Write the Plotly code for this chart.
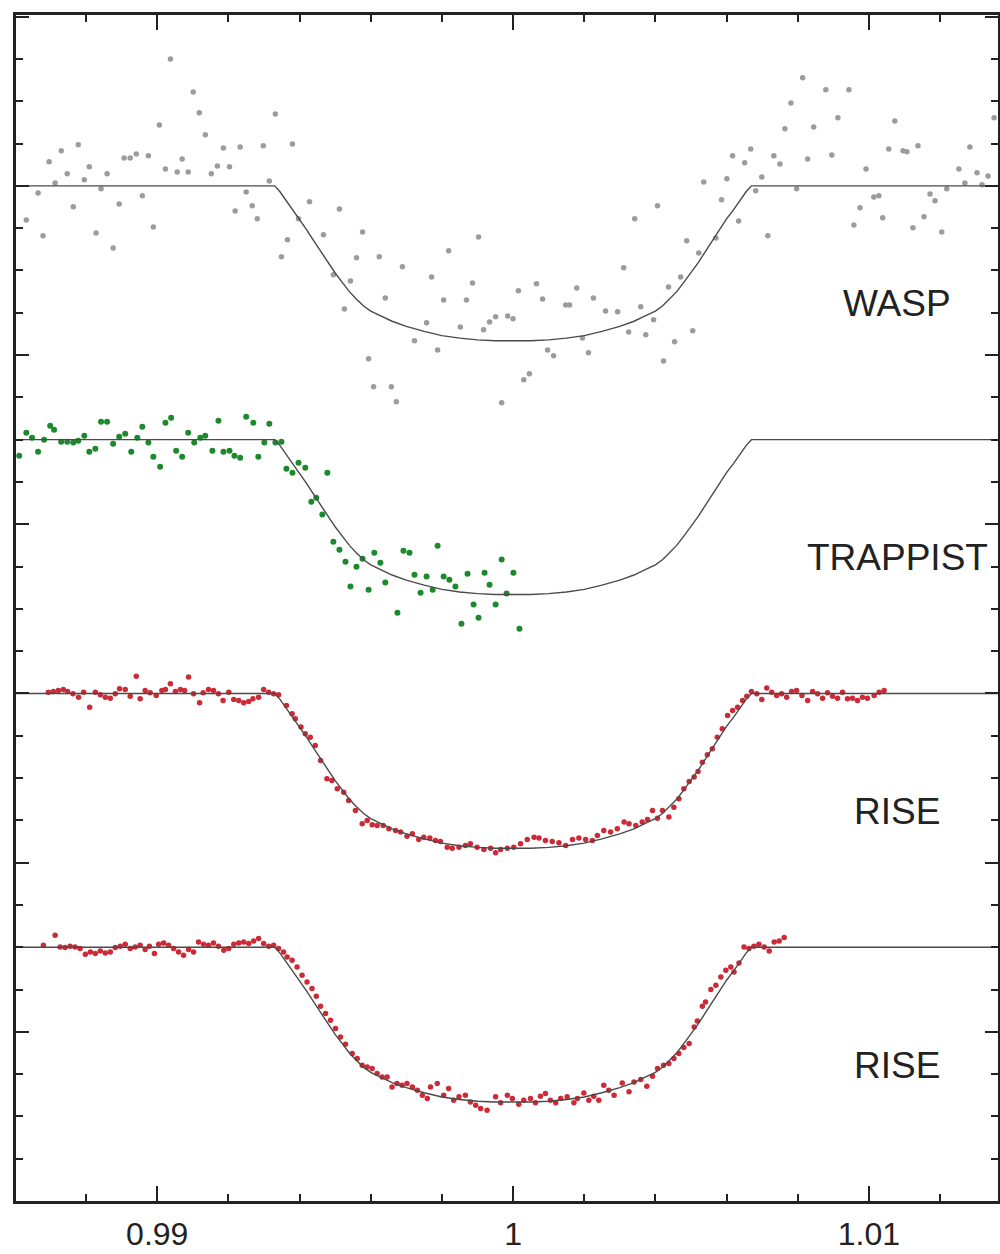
import plotly.graph_objects as go

# ---------------- data (phase, relative flux) ----------------
wasp_pts = [
    (0.98632, 0.99598), (0.98665, 0.99917), (0.98679, 0.99409), (0.98696, 1.00284), (0.98713, 1.00035),
    (0.98730, 1.00414), (0.98747, 1.00142), (0.98764, 0.99752), (0.98778, 1.00485), (0.98795, 1.00071),
    (0.98809, 1.00225), (0.98828, 0.99444), (0.98842, 0.99965), (0.98859, 1.00142), (0.98876, 0.99267),
    (0.98893, 0.99787), (0.98907, 1.00331), (0.98924, 1.00331), (0.98941, 1.00378), (0.98958, 0.99882),
    (0.98975, 1.00355), (0.98989, 0.99515), (0.99006, 1.00721), (0.99023, 1.00201), (0.99037, 1.01501),
    (0.99056, 1.00165), (0.99070, 1.00319), (0.99087, 1.00165), (0.99101, 1.01111), (0.99118, 1.00863),
    (0.99135, 1.00603), (0.99152, 1.00142), (0.99169, 1.00236), (0.99186, 1.00449), (0.99203, 1.00225),
    (0.99219, 0.99704), (0.99233, 1.00461), (0.99250, 0.99929), (0.99267, 0.99764), (0.99281, 0.99610),
    (0.99298, 1.00473), (0.99315, 1.00059), (0.99332, 1.00851), (0.99349, 0.99161), (0.99366, 0.99362),
    (0.99380, 1.00496), (0.99397, 0.99610), (0.99428, 0.99811), (0.99467, 0.99421), (0.99495, 0.98948),
    (0.99512, 0.99728), (0.99526, 0.98546), (0.99543, 0.98877), (0.99560, 0.99149), (0.99577, 0.99456),
    (0.99594, 0.97955), (0.99608, 0.97624), (0.99624, 0.99161), (0.99641, 0.98676), (0.99658, 0.97624),
    (0.99672, 0.97447), (0.99689, 0.99043), (0.99723, 0.98168), (0.99757, 0.98381), (0.99771, 0.98924),
    (0.99788, 0.98061), (0.99805, 0.98652), (0.99819, 0.99232), (0.99852, 0.98333), (0.99869, 0.98652),
    (0.99886, 0.98853), (0.99903, 0.99397), (0.99917, 0.98298), (0.99934, 0.98392), (0.99951, 0.98452),
    (0.99968, 0.97435), (0.99985, 0.98463), (1.00000, 0.98428), (1.00015, 0.98759), (1.00030, 0.97707),
    (1.00046, 0.97778), (1.00066, 0.98842), (1.00083, 0.98664), (1.00097, 0.98061), (1.00114, 0.97991),
    (1.00148, 0.98593), (1.00159, 0.98593), (1.00179, 0.98794), (1.00195, 0.98203), (1.00212, 0.98026),
    (1.00226, 0.98676), (1.00260, 0.98522), (1.00294, 0.98511), (1.00311, 0.99031), (1.00325, 0.98274),
    (1.00342, 0.99610), (1.00359, 0.98570), (1.00373, 0.98239), (1.00395, 0.98416), (1.00406, 0.99764),
    (1.00423, 0.97931), (1.00437, 0.98806), (1.00454, 0.98156), (1.00471, 0.98924), (1.00488, 0.99350),
    (1.00505, 0.98286), (1.00522, 0.99208), (1.00536, 1.00047), (1.00570, 0.99385), (1.00586, 0.99835),
    (1.00601, 1.00083), (1.00617, 1.00355), (1.00634, 0.99586), (1.00651, 1.00272), (1.00668, 1.00437),
    (1.00682, 0.99941), (1.00699, 1.00106), (1.00716, 0.99409), (1.00733, 1.00355), (1.00750, 1.00260),
    (1.00764, 1.00674), (1.00781, 1.00981), (1.00797, 0.99965), (1.00814, 1.01277), (1.00828, 1.00319),
    (1.00845, 1.00697), (1.00879, 1.01135), (1.00896, 1.00366), (1.00913, 1.00804), (1.00944, 1.01135),
    (1.00958, 0.99539), (1.00975, 0.99740), (1.00992, 1.00201), (1.01014, 0.99870), (1.01028, 0.99882),
    (1.01039, 0.99622), (1.01056, 1.00437), (1.01073, 1.00768), (1.01096, 1.00414), (1.01107, 1.00402),
    (1.01124, 0.99504), (1.01138, 1.00473), (1.01155, 0.99634), (1.01172, 0.99905), (1.01186, 0.99823),
    (1.01205, 0.99456), (1.01219, 0.99965), (1.01253, 1.00201), (1.01270, 1.00035), (1.01284, 1.00461),
    (1.01304, 1.00154), (1.01318, 1.00012), (1.01335, 1.00118), (1.01352, 1.00804),
]

trappist_pts = [
    (0.98612, 0.99811), (0.98632, 1.00083), (0.98648, 1.00024), (0.98665, 0.99858), (0.98682, 1.00000),
    (0.98699, 1.00165), (0.98710, 1.00118), (0.98730, 0.99976), (0.98747, 0.99976), (0.98764, 0.99965),
    (0.98778, 0.99988), (0.98795, 1.00047), (0.98809, 0.99858), (0.98826, 0.99894), (0.98842, 1.00213),
    (0.98859, 1.00213), (0.98876, 0.99953), (0.98893, 1.00035), (0.98910, 1.00071), (0.98927, 0.99858),
    (0.98944, 1.00024), (0.98958, 1.00154), (0.98975, 0.99965), (0.98989, 0.99799), (0.99008, 0.99681),
    (0.99023, 1.00201), (0.99039, 1.00260), (0.99053, 0.99870), (0.99070, 0.99799), (0.99087, 1.00083),
    (0.99104, 0.99965), (0.99121, 1.00024), (0.99135, 1.00047), (0.99155, 0.99870), (0.99172, 1.00225),
    (0.99186, 0.99858), (0.99203, 0.99870), (0.99217, 0.99811), (0.99233, 0.99787), (0.99250, 1.00272),
    (0.99270, 1.00201), (0.99284, 0.99799), (0.99301, 0.99965), (0.99315, 1.00189), (0.99332, 0.99965),
    (0.99349, 0.99976), (0.99363, 0.99657), (0.99380, 0.99610), (0.99397, 0.99728), (0.99416, 0.99669),
    (0.99433, 0.99267), (0.99447, 0.99314), (0.99464, 0.99114), (0.99478, 0.99610), (0.99495, 0.98794),
    (0.99512, 0.98700), (0.99529, 0.98558), (0.99543, 0.98263), (0.99560, 0.98499), (0.99577, 0.98593),
    (0.99594, 0.98227), (0.99610, 0.98664), (0.99627, 0.98546), (0.99641, 0.98310), (0.99675, 0.97955),
    (0.99692, 0.98688), (0.99709, 0.98664), (0.99723, 0.98404), (0.99740, 0.98191), (0.99757, 0.98381),
    (0.99774, 0.98227), (0.99788, 0.98747), (0.99805, 0.98381), (0.99821, 0.98345), (0.99838, 0.98263),
    (0.99855, 0.97825), (0.99872, 0.98416), (0.99889, 0.98050), (0.99903, 0.97896), (0.99920, 0.98428),
    (0.99934, 0.98286), (0.99951, 0.98050), (0.99968, 0.98582), (0.99982, 0.98180), (1.00001, 0.98428),
    (1.00018, 0.97766),
]

rise1_pts = [
    (0.98694, 1.00015), (0.98708, 1.00024), (0.98722, 1.00035), (0.98736, 1.00047), (0.98748, 1.00024),
    (0.98763, 0.99996), (0.98779, 0.99956), (0.98793, 1.00015), (0.98810, 0.99838), (0.98826, 1.00015),
    (0.98840, 0.99985), (0.98854, 0.99956), (0.98868, 0.99944), (0.98882, 0.99996), (0.98894, 1.00056),
    (0.98910, 1.00047), (0.98924, 0.99968), (0.98941, 1.00204), (0.98952, 0.99937), (0.98966, 1.00035),
    (0.98980, 1.00008), (0.98997, 0.99976), (0.99013, 1.00035), (0.99023, 1.00047), (0.99037, 1.00115),
    (0.99051, 1.00024), (0.99065, 1.00047), (0.99077, 1.00035), (0.99088, 1.00193), (0.99102, 0.99996),
    (0.99119, 0.99890), (0.99129, 1.00008), (0.99144, 1.00047), (0.99158, 1.00035), (0.99172, 0.99996),
    (0.99185, 0.99917), (0.99201, 1.00015), (0.99215, 0.99929), (0.99229, 0.99917), (0.99243, 0.99890),
    (0.99257, 0.99905), (0.99269, 0.99937), (0.99285, 0.99956), (0.99299, 1.00047), (0.99313, 1.00015),
    (0.99327, 0.99996), (0.99341, 0.99985), (0.99363, 0.99858), (0.99379, 0.99760), (0.99388, 0.99701),
    (0.99404, 0.99602), (0.99416, 0.99524), (0.99430, 0.99483), (0.99444, 0.99385), (0.99459, 0.99208),
    (0.99477, 0.98992), (0.99491, 0.98972), (0.99506, 0.98874), (0.99524, 0.98833), (0.99538, 0.98735),
    (0.99557, 0.98617), (0.99576, 0.98460), (0.99590, 0.98499), (0.99604, 0.98448), (0.99618, 0.98440),
    (0.99635, 0.98440), (0.99651, 0.98401), (0.99670, 0.98381), (0.99684, 0.98361), (0.99702, 0.98313),
    (0.99717, 0.98342), (0.99735, 0.98274), (0.99749, 0.98301), (0.99766, 0.98290), (0.99782, 0.98262),
    (0.99796, 0.98251), (0.99815, 0.98183), (0.99829, 0.98171), (0.99848, 0.98183), (0.99866, 0.98203),
    (0.99880, 0.98223), (0.99899, 0.98183), (0.99918, 0.98156), (0.99937, 0.98171), (0.99951, 0.98117),
    (0.99965, 0.98156), (0.99984, 0.98171), (1.00002, 0.98183), (1.00021, 0.98223), (1.00040, 0.98274),
    (1.00059, 0.98301), (1.00073, 0.98290), (1.00091, 0.98262), (1.00110, 0.98251), (1.00129, 0.98235),
    (1.00148, 0.98203), (1.00167, 0.98274), (1.00185, 0.98290), (1.00204, 0.98274), (1.00223, 0.98262),
    (1.00237, 0.98322), (1.00255, 0.98381), (1.00274, 0.98361), (1.00293, 0.98401), (1.00312, 0.98479),
    (1.00326, 0.98460), (1.00345, 0.98440), (1.00363, 0.98479), (1.00378, 0.98511), (1.00392, 0.98617),
    (1.00406, 0.98526), (1.00420, 0.98617), (1.00438, 0.98538), (1.00452, 0.98656), (1.00466, 0.98755),
    (1.00480, 0.98874), (1.00495, 0.98960), (1.00509, 0.99011), (1.00520, 0.99078), (1.00532, 0.99188),
    (1.00546, 0.99275), (1.00560, 0.99346), (1.00574, 0.99483), (1.00588, 0.99583), (1.00603, 0.99740),
    (1.00617, 0.99799), (1.00631, 0.99838), (1.00645, 0.99917), (1.00657, 0.99968), (1.00670, 1.00024),
    (1.00685, 0.99996), (1.00699, 0.99929), (1.00713, 1.00063), (1.00727, 1.00015), (1.00741, 0.99976),
    (1.00755, 0.99996), (1.00769, 0.99956), (1.00783, 1.00024), (1.00797, 1.00035), (1.00812, 0.99976),
    (1.00828, 0.99917), (1.00842, 1.00024), (1.00856, 0.99996), (1.00870, 0.99944), (1.00884, 1.00008),
    (1.00898, 0.99968), (1.00912, 0.99944), (1.00926, 1.00015), (1.00940, 0.99937), (1.00954, 0.99944),
    (1.00968, 0.99917), (1.00982, 0.99956), (1.00996, 0.99944), (1.01015, 0.99976), (1.01029, 1.00015),
    (1.01043, 1.00035),
]

rise2_pts = [
    (0.98680, 1.00024), (0.98713, 1.00142), (0.98727, 1.00004), (0.98741, 0.99996), (0.98755, 1.00012),
    (0.98769, 1.00004), (0.98783, 0.99985), (0.98798, 0.99917), (0.98812, 0.99944), (0.98826, 0.99926),
    (0.98840, 0.99956), (0.98854, 0.99933), (0.98868, 0.99944), (0.98882, 0.99996), (0.98896, 1.00012),
    (0.98910, 1.00035), (0.98924, 0.99985), (0.98938, 1.00004), (0.98952, 1.00024), (0.98966, 0.99973),
    (0.98978, 1.00012), (0.98992, 0.99926), (0.99004, 1.00035), (0.99018, 1.00051), (0.99032, 1.00024),
    (0.99046, 0.99985), (0.99060, 0.99944), (0.99074, 0.99905), (0.99088, 0.99973), (0.99102, 0.99944),
    (0.99116, 1.00063), (0.99130, 1.00035), (0.99144, 1.00024), (0.99158, 1.00051), (0.99172, 1.00012),
    (0.99187, 0.99965), (0.99201, 0.99985), (0.99215, 1.00035), (0.99229, 1.00051), (0.99243, 1.00063),
    (0.99257, 1.00044), (0.99271, 1.00074), (0.99285, 1.00103), (0.99299, 1.00044), (0.99313, 1.00012),
    (0.99327, 1.00024), (0.99341, 0.99985), (0.99355, 0.99944), (0.99365, 0.99885), (0.99379, 0.99846),
    (0.99393, 0.99767), (0.99407, 0.99669), (0.99421, 0.99590), (0.99435, 0.99512), (0.99447, 0.99421),
    (0.99459, 0.99303), (0.99473, 0.99216), (0.99487, 0.99137), (0.99501, 0.99039), (0.99515, 0.98940),
    (0.99529, 0.98853), (0.99548, 0.98744), (0.99562, 0.98684), (0.99576, 0.98605), (0.99590, 0.98585),
    (0.99604, 0.98566), (0.99618, 0.98507), (0.99632, 0.98467), (0.99646, 0.98467), (0.99660, 0.98349),
    (0.99674, 0.98389), (0.99688, 0.98369), (0.99702, 0.98389), (0.99717, 0.98349), (0.99731, 0.98310),
    (0.99745, 0.98251), (0.99759, 0.98212), (0.99768, 0.98349), (0.99787, 0.98389), (0.99805, 0.98251),
    (0.99819, 0.98330), (0.99833, 0.98191), (0.99848, 0.98231), (0.99866, 0.98251), (0.99880, 0.98171),
    (0.99895, 0.98132), (0.99909, 0.98093), (0.99927, 0.98073), (0.99951, 0.98231), (0.99965, 0.98160),
    (0.99984, 0.98251), (0.99998, 0.98212), (1.00016, 0.98144), (1.00030, 0.98191), (1.00049, 0.98212),
    (1.00063, 0.98160), (1.00077, 0.98239), (1.00091, 0.98271), (1.00105, 0.98191), (1.00120, 0.98160),
    (1.00134, 0.98212), (1.00152, 0.98231), (1.00171, 0.98160), (1.00181, 0.98212), (1.00199, 0.98278),
    (1.00213, 0.98191), (1.00227, 0.98239), (1.00241, 0.98191), (1.00255, 0.98369), (1.00269, 0.98310),
    (1.00284, 0.98251), (1.00307, 0.98396), (1.00326, 0.98290), (1.00340, 0.98408), (1.00359, 0.98436),
    (1.00376, 0.98357), (1.00392, 0.98475), (1.00406, 0.98566), (1.00423, 0.98605), (1.00438, 0.98625),
    (1.00452, 0.98684), (1.00466, 0.98744), (1.00480, 0.98814), (1.00495, 0.98862), (1.00509, 0.99058),
    (1.00518, 0.99129), (1.00532, 0.99303), (1.00541, 0.99353), (1.00556, 0.99500), (1.00570, 0.99551),
    (1.00584, 0.99649), (1.00598, 0.99728), (1.00612, 0.99767), (1.00621, 0.99708), (1.00635, 0.99814),
    (1.00649, 1.00004), (1.00663, 0.99985), (1.00677, 1.00012), (1.00691, 1.00035), (1.00706, 1.00004),
    (1.00720, 0.99956), (1.00734, 1.00063), (1.00748, 1.00074), (1.00762, 1.00115),
]

# fitted transit model
model_phase = [0.9855, 0.99330, 0.99345, 0.99360, 0.99380, 0.99400, 0.99420, 0.99440, 0.99460, 0.99480,
               0.99500, 0.99520, 0.99540, 0.99560, 0.99580, 0.99600, 0.99630, 0.99660, 0.99700, 0.99750,
               0.99800, 0.99850, 0.99900, 0.99950, 1.00000, 1.00050, 1.00100, 1.00150, 1.00200, 1.00250,
               1.00300, 1.00340, 1.00370, 1.00400, 1.00420, 1.00440, 1.00460, 1.00480, 1.00500, 1.00520,
               1.00540, 1.00560, 1.00580, 1.00600, 1.00620, 1.00640, 1.00655, 1.00670, 1.0145]
model_flux = [1.0, 1.0, 0.9993, 0.9984, 0.9972, 0.9961, 0.9948, 0.9935, 0.9922, 0.9909,
              0.9897, 0.9886, 0.9875, 0.9866, 0.9858, 0.9852, 0.9846, 0.9840, 0.9834, 0.9828,
              0.9823, 0.9820, 0.9818, 0.9817, 0.9817, 0.9817, 0.9818, 0.9820, 0.9823, 0.9828,
              0.9834, 0.9840, 0.9846, 0.9852, 0.9858, 0.9866, 0.9875, 0.9886, 0.9897, 0.9909,
              0.9922, 0.9935, 0.9948, 0.9961, 0.9972, 0.9984, 0.9993, 1.0, 1.0]

labels = ["WASP", "TRAPPIST", "RISE", "RISE"]
x_tick_vals = [0.99, 1.0, 1.01]
x_tick_text = ["0.99", "1", "1.01"]

# ---------------- styling / layout ----------------
offsets = [0.0, -0.03, -0.06, -0.09]
colors = ["#9c9c9c", "#1c8a2c", "#cc2a36", "#cc2a36"]
sizes = [5.5, 6, 5.5, 5.5]
datasets = [wasp_pts, trappist_pts, rise1_pts, rise2_pts]

fig = go.Figure()
for pts, off, col, sz in zip(datasets, offsets, colors, sizes):
    xs = [p[0] for p in pts]
    ys = [p[1] + off for p in pts]
    fig.add_trace(go.Scatter(x=xs, y=ys, mode="markers",
                             marker=dict(color=col, size=sz, line=dict(width=0)),
                             showlegend=False, hoverinfo="skip"))
for off in offsets:
    fig.add_trace(go.Scatter(x=model_phase, y=[f + off for f in model_flux], mode="lines",
                             line=dict(color="#4a4a4a", width=1.4),
                             showlegend=False, hoverinfo="skip"))

for lab, off in zip(labels, offsets):
    fig.add_annotation(x=1.0108, y=0.98605 + off, text=lab, showarrow=False,
                       xanchor="center", yanchor="middle",
                       font=dict(family="Liberation Sans, Arial, sans-serif", size=37, color="#222"))

axis_col = "#222"
fig.update_layout(
    width=1000, height=1254,
    margin=dict(l=16, r=2, t=15, b=53, autoexpand=False),
    paper_bgcolor="white", plot_bgcolor="white",
    xaxis=dict(range=[0.98603, 1.01363], tickmode="array", tickvals=x_tick_vals, ticktext=x_tick_text,
               ticks="inside", ticklen=15, tickwidth=2, tickcolor=axis_col,
               showline=True, linewidth=2.5, linecolor=axis_col, mirror="allticks",
               showgrid=False, zeroline=False, automargin=False,
               minor=dict(tickmode="linear", tick0=0.99, dtick=0.002, ticks="inside", ticklen=7,
                          tickwidth=2, tickcolor=axis_col, showgrid=False),
               tickfont=dict(family="Liberation Sans, Arial, sans-serif", size=32, color="#222"),
               ticklabelstandoff=3),
    yaxis=dict(range=[0.88, 1.0202], tickmode="linear", tick0=0.88, dtick=0.02,
               ticks="inside", ticklen=13, tickwidth=2, tickcolor=axis_col,
               showticklabels=False, automargin=False,
               showline=True, linewidth=2.5, linecolor=axis_col, mirror="allticks",
               showgrid=False, zeroline=False,
               minor=dict(tickmode="linear", tick0=0.88, dtick=0.005, ticks="inside", ticklen=7,
                          tickwidth=2, tickcolor=axis_col, showgrid=False)),
)

fig.write_html("out.html")
